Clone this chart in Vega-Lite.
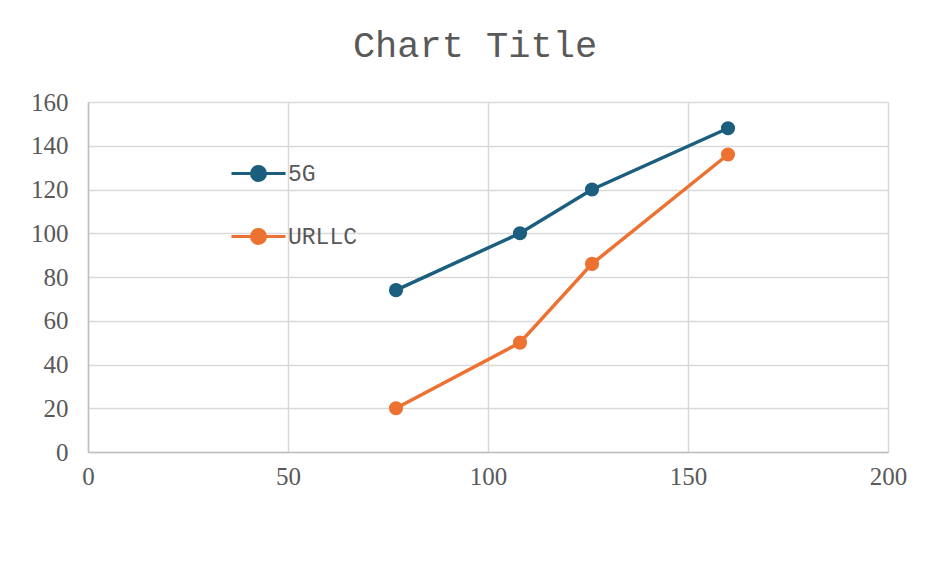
{
  "$schema": "https://vega.github.io/schema/vega-lite/v6.json",
  "width": 800,
  "height": 350,
  "autosize": "none",
  "padding": {"left": 88, "top": 102, "right": 41, "bottom": 110},
  "background": "white",
  "title": {
    "text": "Chart Title",
    "font": "Liberation Mono",
    "fontSize": 37,
    "fontWeight": "normal",
    "color": "#595959",
    "anchor": "middle",
    "dx": -13,
    "offset": 25
  },
  "data": {
    "values": [
      {"x": 77, "y": 74, "series": "5G"},
      {"x": 108, "y": 100, "series": "5G"},
      {"x": 126, "y": 120, "series": "5G"},
      {"x": 160, "y": 148, "series": "5G"},
      {"x": 77, "y": 20, "series": "URLLC"},
      {"x": 108, "y": 50, "series": "URLLC"},
      {"x": 126, "y": 86, "series": "URLLC"},
      {"x": 160, "y": 136, "series": "URLLC"}
    ]
  },
  "encoding": {
    "x": {
      "field": "x", "type": "quantitative",
      "scale": {"domain": [0, 200], "nice": false, "zero": true},
      "axis": {"values": [0, 50, 100, 150, 200], "title": null, "labelPadding": 12, "labelFlush": false}
    },
    "y": {
      "field": "y", "type": "quantitative",
      "scale": {"domain": [0, 160], "nice": false},
      "axis": {"values": [0, 20, 40, 60, 80, 100, 120, 140, 160], "title": null, "labelPadding": 20}
    },
    "color": {
      "field": "series", "type": "nominal",
      "scale": {"domain": ["5G", "URLLC"], "range": ["#1b5e7e", "#ed7232"]},
      "legend": {
        "title": null,
        "orient": "none",
        "legendX": 142,
        "legendY": 43,
        "padding": 0,
        "symbolType": "M-1,0L1,0M-0.26,0A0.26,0.26,0,1,0,0.26,0A0.26,0.26,0,1,0,-0.26,0Z",
        "symbolSize": 2916,
        "symbolStrokeWidth": 3,
        "labelOffset": 1,
        "rowPadding": 21,
        "labelFont": "Liberation Mono",
        "labelFontSize": 23,
        "labelColor": "#595959",
        "encode": {
          "symbols": {
            "update": {
              "fill": {"scale": "color", "field": "value"},
              "stroke": {"scale": "color", "field": "value"},
              "opacity": {"value": 1}
            }
          }
        }
      }
    }
  },
  "layer": [
    {"mark": {"type": "line", "strokeWidth": 3.5}},
    {"mark": {"type": "point", "filled": true, "size": 200, "opacity": 1}}
  ],
  "config": {
    "view": {"stroke": null},
    "axis": {
      "labelFont": "Liberation Serif",
      "labelFontSize": 25,
      "labelColor": "#595959",
      "ticks": false,
      "gridColor": "#d9d9d9",
      "gridWidth": 1.5,
      "domainColor": "#bfbfbf",
      "domainWidth": 1.5
    }
  }
}
